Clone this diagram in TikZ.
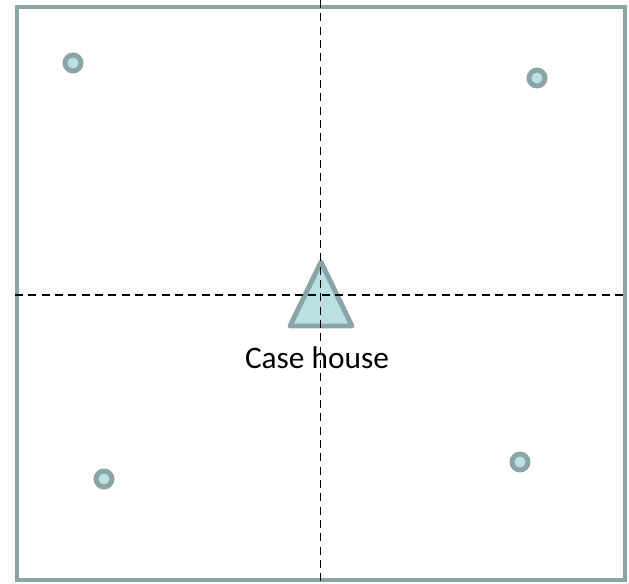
\documentclass[tikz,border=0pt]{standalone}
\usepackage{fontspec}
\setmainfont{Carlito}
\usepackage{tikz}
\usetikzlibrary{positioning}
\definecolor{rimgray}{RGB}{139, 165, 167}
\definecolor{palecyan}{RGB}{187, 224, 228}
\tikzset{
  site/.style={
    circle, draw=rimgray, fill=palecyan, line width=3.7pt,
    minimum size=12pt, inner sep=0pt,
  },
  house/.style={draw=rimgray, fill=palecyan, line width=3.7pt, line join=round},
  axis/.style={draw=black, line width=1.25pt, dash pattern=on 6pt off 4pt},
  frame/.style={draw=rimgray, line width=3.2pt},
}
\begin{document}
\begin{tikzpicture}[x=0.75pt, y=-0.75pt,
  tag/.style={font=\fontsize{23.5}{28}\selectfont, inner sep=0pt}]

\useasboundingbox (0,0) rectangle (629,583);
\draw[frame] (17,7) rectangle (625,580);

% quadrant axes through the case house
\coordinate (ntop) at (320.5,0);
\coordinate (nbot) at (320.5,583);
\coordinate (wend) at (15,295);
\coordinate (eend) at (625,295);

\draw[house] (321,262) -- (290,326) -- (352,326) -- cycle;
\draw[axis] (ntop) -- (nbot);
\draw[axis] (wend) -- (eend);

\node[tag] (caselbl) at (317,358) {Case house};

\node[site] (nw) at (73,63) {};
\node[site] (ne) at (537,78) {};
\node[site] (sw) at (104,479) {};
\node[site] (se) at (520,462) {};

\end{tikzpicture}
\end{document}
